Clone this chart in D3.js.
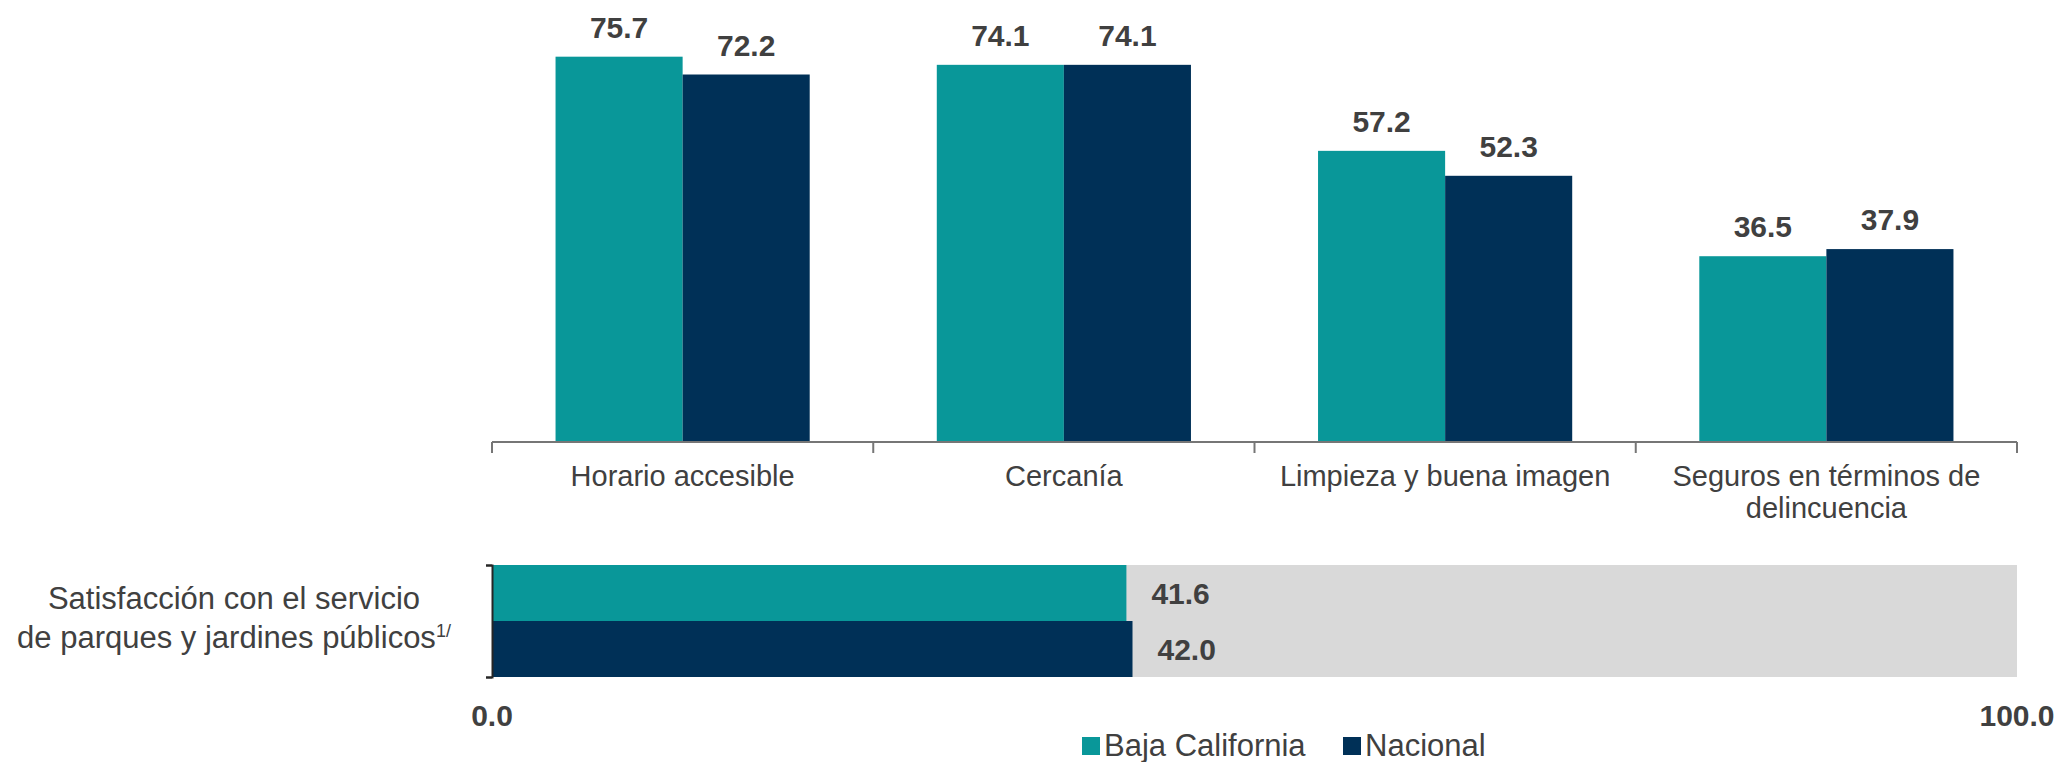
<!DOCTYPE html>
<html>
<head>
<meta charset="utf-8">
<script src="https://cdn.jsdelivr.net/npm/d3@7"></script>
<style>
  body { margin: 0; background: #fff; }
  text { font-family: "Liberation Sans", Arial, sans-serif; }
</style>
</head>
<body>
<div id="chart"></div>
<script>
// Data
const categories = [
    "Horario accesible",
    "Cercanía",
    "Limpieza y buena imagen",
    "Seguros en términos de delincuencia"
];
const series = ["Baja California", "Nacional"];
const bajaCalifornia = [75.7, 74.1, 57.2, 36.5];
const nacional = [72.2, 74.1, 52.3, 37.9];
const satisfaccion = [41.6, 42.0];
const satisfaccionMax = 100;
const xTicks = [0, 100];

const colors = { "Baja California": "#099799", "Nacional": "#003057" };

const width = 2067;
const height = 762;
const svg = d3.select("#chart")
    .append("svg")
    .attr("width", width)
    .attr("height", height);

// ---- Top grouped column chart ----
const left = 492, right = 2017, baseline = 442;

const x0 = d3.scaleBand()
    .domain(categories)
    .range([left, right])
    .padding(0);

const x1 = d3.scaleBand()
    .domain(series)
    .range([0, x0.bandwidth()])
    .paddingInner(0)
    .paddingOuter(0.5);

const y = d3.scaleLinear()
    .domain([0, 100])
    .range([baseline, -67]);

const rows = categories.map((c, i) => ({
    category: c,
    values: [
        { key: "Baja California", value: bajaCalifornia[i] },
        { key: "Nacional", value: nacional[i] }
    ]
}));

const groups = svg.selectAll("g.group")
    .data(rows)
    .enter()
    .append("g")
    .attr("class", "group")
    .attr("transform", d => `translate(${x0(d.category)},0)`);

groups.selectAll("rect")
    .data(d => d.values)
    .enter()
    .append("rect")
    .attr("x", d => x1(d.key))
    .attr("y", d => y(d.value))
    .attr("width", x1.bandwidth())
    .attr("height", d => y(0) - y(d.value))
    .attr("fill", d => colors[d.key]);

groups.selectAll("text.value")
    .data(d => d.values)
    .enter()
    .append("text")
    .attr("class", "value")
    .attr("x", d => x1(d.key) + x1.bandwidth() / 2)
    .attr("y", d => y(d.value) - 19)
    .attr("text-anchor", "middle")
    .attr("font-size", "30px")
    .attr("font-weight", "bold")
    .attr("fill", "#404040")
    .text(d => d.value.toFixed(1));

// category axis with ticks between groups
const axisG = svg.append("g");
axisG.append("line")
    .attr("x1", left).attr("x2", right)
    .attr("y1", baseline).attr("y2", baseline)
    .attr("stroke", "#767676")
    .attr("stroke-width", 2);

const tickPos = categories.map(c => x0(c)).concat([right]);
axisG.selectAll("line.tick")
    .data(tickPos)
    .enter()
    .append("line")
    .attr("class", "tick")
    .attr("x1", d => d).attr("x2", d => d)
    .attr("y1", baseline).attr("y2", baseline + 11)
    .attr("stroke", "#767676")
    .attr("stroke-width", 2);

axisG.selectAll("text.cat")
    .data(categories)
    .enter()
    .append("text")
    .attr("class", "cat")
    .attr("x", d => x0(d) + x0.bandwidth() / 2)
    .attr("y", 486)
    .attr("text-anchor", "middle")
    .attr("font-size", "29px")
    .attr("fill", "#404040")
    .each(function (d) {
        const t = d3.select(this);
        const lines = d === "Seguros en términos de delincuencia"
            ? ["Seguros en términos de", "delincuencia"] : [d];
        lines.forEach((l, i) => {
            t.append("tspan")
                .attr("x", x0(d) + x0.bandwidth() / 2)
                .attr("dy", i === 0 ? 0 : 32)
                .text(l);
        });
    });

// ---- Bottom horizontal bar ----
const xb = d3.scaleLinear()
    .domain([0, satisfaccionMax])
    .range([left, right]);

const yb = d3.scaleBand()
    .domain(series)
    .range([565, 677])
    .padding(0);

svg.append("rect")
    .attr("x", xb(0))
    .attr("y", yb.range()[0])
    .attr("width", xb(satisfaccionMax) - xb(0))
    .attr("height", yb.range()[1] - yb.range()[0])
    .attr("fill", "#d9d9d9");

const hbars = series.map((s, i) => ({ key: s, value: satisfaccion[i] }));

svg.selectAll("rect.hbar")
    .data(hbars)
    .enter()
    .append("rect")
    .attr("class", "hbar")
    .attr("x", xb(0))
    .attr("y", d => yb(d.key))
    .attr("width", d => xb(d.value) - xb(0))
    .attr("height", yb.bandwidth())
    .attr("fill", d => colors[d.key]);

svg.selectAll("text.hval")
    .data(hbars)
    .enter()
    .append("text")
    .attr("class", "hval")
    .attr("x", d => xb(d.value) + 25)
    .attr("y", d => yb(d.key) + yb.bandwidth() / 2)
    .attr("dy", "0.35em")
    .attr("font-size", "30px")
    .attr("font-weight", "bold")
    .attr("fill", "#404040")
    .text(d => d.value.toFixed(1));

// left bracket axis
const yAxis = d3.axisLeft(d3.scaleLinear().domain([0, 1]).range([677, 565]))
    .tickValues([0, 1])
    .tickSize(6)
    .tickFormat("");
svg.append("g")
    .attr("transform", `translate(${left},0)`)
    .call(yAxis)
    .call(g => g.selectAll("path, line").attr("stroke", "#262626").attr("stroke-width", 2));

// x tick labels 0.0 / 100.0
svg.selectAll("text.xtick")
    .data(xTicks)
    .enter()
    .append("text")
    .attr("class", "xtick")
    .attr("x", d => xb(d))
    .attr("y", 726)
    .attr("text-anchor", "middle")
    .attr("font-size", "30px")
    .attr("font-weight", "bold")
    .attr("fill", "#404040")
    .text(d => d.toFixed(1));

// left label
const lbl = svg.append("text")
    .attr("x", 234)
    .attr("y", 609)
    .attr("text-anchor", "middle")
    .attr("font-size", "31px")
    .attr("fill", "#404040");
lbl.append("tspan").attr("x", 234).text("Satisfacción con el servicio");
lbl.append("tspan").attr("x", 234).attr("dy", 39).text("de parques y jardines públicos");
lbl.append("tspan").attr("dy", -11).attr("font-size", "18px").text("1/");

// legend
const legendX = [1082, 1343];
const legend = svg.selectAll("g.legend")
    .data(series)
    .enter()
    .append("g")
    .attr("class", "legend")
    .attr("transform", (d, i) => `translate(${legendX[i]},0)`);
legend.append("rect")
    .attr("x", 0).attr("y", 737)
    .attr("width", 18).attr("height", 18)
    .attr("fill", d => colors[d]);
legend.append("text")
    .attr("x", 22).attr("y", 756)
    .attr("font-size", "31px")
    .attr("fill", "#404040")
    .text(d => d);
</script>
</body>
</html>
